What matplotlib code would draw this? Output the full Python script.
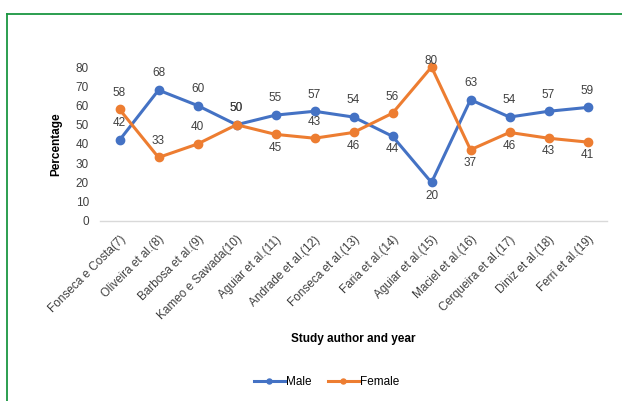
import matplotlib.pyplot as plt
from matplotlib.lines import Line2D

plt.rcParams['font.family'] = ['Liberation Sans', 'DejaVu Sans']

studies = ['Fonseca e Costa(7)', 'Oliveira et al.(8)', 'Barbosa et al.(9)',
           'Kameo e Sawada(10)', 'Aguiar et al.(11)', 'Andrade et al.(12)',
           'Fonseca et al.(13)', 'Faria et al.(14)', 'Aguiar et al.(15)',
           'Maciel et al.(16)', 'Cerqueira et al.(17)', 'Diniz et al.(18)',
           'Ferri et al.(19)']
male = [42, 68, 60, 50, 55, 57, 54, 44, 20, 63, 54, 57, 59]
female = [58, 33, 40, 50, 45, 43, 46, 56, 80, 37, 46, 43, 41]

# where each value label sits relative to its point
male_side = ['a', 'a', 'a', 'a', 'a', 'a', 'a', 'b', 'b', 'a', 'a', 'a', 'a']
female_side = ['a', 'a', 'a', 'a', 'b', 'a', 'b', 'a', 'a', 'b', 'b', 'b', 'b']

blue = '#4472C4'
orange = '#ED7D31'

fig = plt.figure(figsize=(6.22, 4.01), dpi=100)
ax = fig.add_axes([0.1608, 0.4489, 0.8151, 0.384])

x = list(range(len(studies)))
ax.plot(x, male, color=blue, lw=2.2, marker='o', ms=6, label='Male', clip_on=False)
ax.plot(x, female, color=orange, lw=2.2, marker='o', ms=6, label='Female', clip_on=False)


def add_labels(values, sides):
    for i, (v, s) in enumerate(zip(values, sides)):
        if s == 'a':
            dy = 12 if v < 75 else 4
        else:
            dy = -9.5
        ax.annotate(str(v), (i, v), xytext=(0, dy), textcoords='offset points',
                    ha='center', va='center', fontsize=8.5, color='#404040')


add_labels(male, male_side)
add_labels(female, female_side)

ax.set_xlim(-0.5, len(studies) - 0.5)
ax.set_ylim(0, 80)
ax.set_yticks(range(0, 81, 10))
ax.set_xticks(x)
ax.set_xticklabels(studies, rotation=45, ha='right', rotation_mode='anchor',
                   fontsize=8.2, color='#404040')
ax.tick_params(axis='both', length=0, labelsize=8.5, labelcolor='#404040')
ax.tick_params(axis='y', pad=8)
ax.tick_params(axis='x', pad=9)
for side in ['top', 'right', 'left']:
    ax.spines[side].set_visible(False)
ax.spines['bottom'].set_color('#d9d9d9')
ax.spines['bottom'].set_linewidth(1)

ax.set_ylabel('Percentage', fontsize=8.5, fontweight='bold', labelpad=10)
fig.text(0.568, 0.155, 'Study author and year', fontsize=8.5, fontweight='bold',
         ha='center', va='center')

ax.legend(loc='center', bbox_to_anchor=(0.525, 0.047), bbox_transform=fig.transFigure,
          ncol=2, frameon=False, fontsize=8.5, handlelength=2.6, columnspacing=1.4,
          handletextpad=0.1, markerscale=0.6)

# green outline round the figure
fig.add_artist(Line2D([7.5 / 622, 7.5 / 622], [0, 1 - 14 / 401], color='#1a9641', lw=1.3))
fig.add_artist(Line2D([7.5 / 622, 1], [1 - 14 / 401, 1 - 14 / 401], color='#1a9641', lw=1.3))

fig.savefig('out.png', dpi=100)
